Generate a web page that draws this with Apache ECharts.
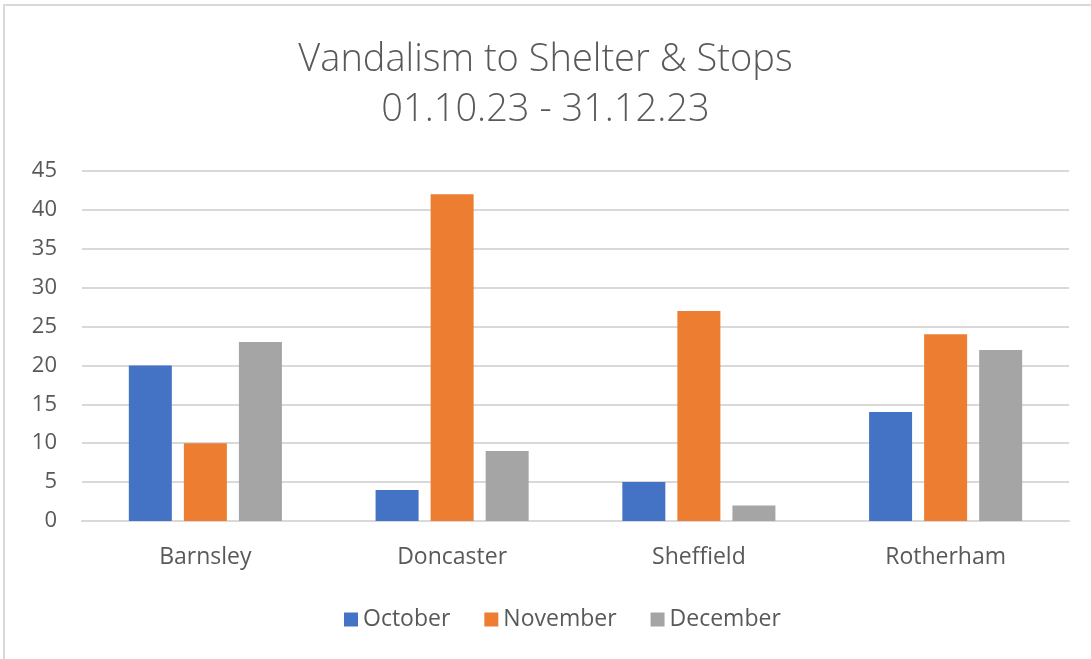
<!DOCTYPE html>
<html>
<head>
<meta charset="utf-8">
<script src="https://cdn.jsdelivr.net/npm/echarts@6/dist/echarts.min.js"></script>
<style>
  html, body { margin: 0; padding: 0; background: #fff; }
  #chart { width: 1091px; height: 659px; }
</style>
</head>
<body>
<div id="chart"></div>
<script>
const categories = ['Barnsley', 'Doncaster', 'Sheffield', 'Rotherham']
const october = [20, 4, 5, 14]
const november = [10, 42, 27, 24]
const december = [23, 9, 2, 22]
const yTicks = { min: 0, max: 45, interval: 5 }

const textColor = '#595959'
const font = 'Open Sans'

const chart = echarts.init(document.getElementById('chart'))

const barSeries = (name, data, color) => ({
  name: name,
  type: 'bar',
  data: data,
  barWidth: 43,
  barGap: '28%',
  itemStyle: { color: color },
  animation: false
})

chart.setOption({
  textStyle: { fontFamily: font },
  graphic: [
    {
      type: 'rect',
      shape: { x: 4, y: 5, width: 1200, height: 800 },
      style: { fill: 'none', stroke: '#d9d9d9', lineWidth: 2 },
      silent: true
    }
  ],
  title: {
    text: 'Vandalism to Shelter & Stops\n01.10.23 - 31.12.23',
    left: 'center',
    top: 30,
    textStyle: {
      fontFamily: font,
      fontWeight: 300,
      fontSize: 38,
      lineHeight: 50,
      color: textColor
    }
  },
  legend: {
    bottom: 23,
    left: 339,
    itemWidth: 14,
    itemHeight: 14,
    itemGap: 34,
    icon: 'rect',
    textStyle: { fontFamily: font, fontSize: 23, color: textColor },
    data: ['October', 'November', 'December']
  },
  grid: {
    left: 82,
    right: 22,
    top: 171,
    bottom: 138
  },
  xAxis: {
    type: 'category',
    data: categories,
    axisLine: { lineStyle: { color: '#d9d9d9', width: 2 } },
    axisTick: { show: false },
    axisLabel: { color: textColor, fontSize: 23, margin: 25 }
  },
  yAxis: {
    type: 'value',
    min: yTicks.min,
    max: yTicks.max,
    interval: yTicks.interval,
    axisLine: { show: false },
    axisTick: { show: false },
    axisLabel: { color: textColor, fontSize: 22, margin: 25 },
    splitLine: { lineStyle: { color: '#d9d9d9', width: 2 } }
  },
  series: [
    barSeries('October', october, '#4472c4'),
    barSeries('November', november, '#ed7d31'),
    barSeries('December', december, '#a5a5a5')
  ]
})
</script>
</body>
</html>
